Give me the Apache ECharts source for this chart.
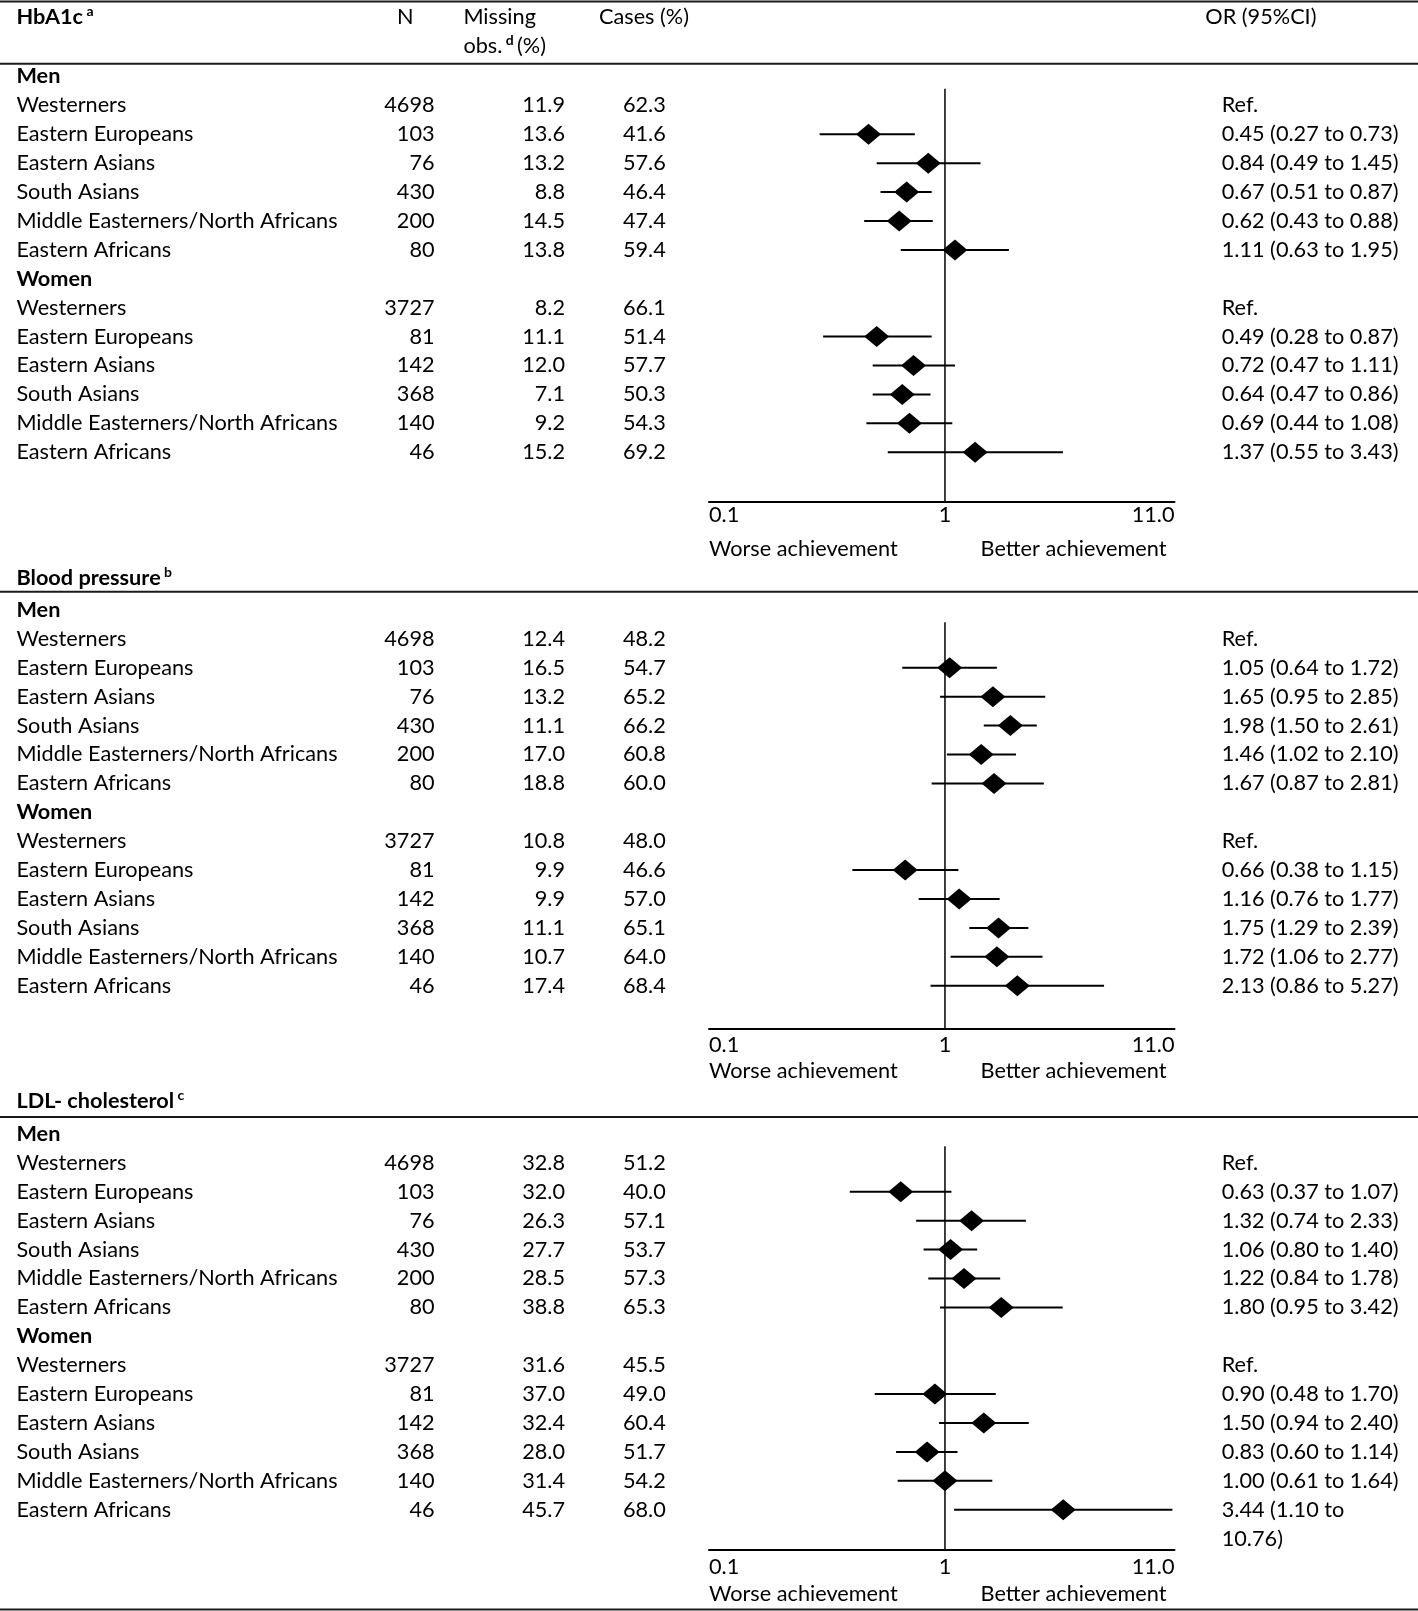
<!DOCTYPE html>
<html><head><meta charset="utf-8">
<script src="https://cdn.jsdelivr.net/npm/echarts@6/dist/echarts.min.js"></script>
<style>html,body{margin:0;padding:0;background:#fff}#c{width:1418px;height:1611px}</style>
</head><body><div id="c"></div>
<script>
// ---------- DATA ----------
const groups = ['Westerners','Eastern Europeans','Eastern Asians','South Asians','Middle Easterners/North Africans','Eastern Africans'];
const sexes = ['Men','Women'];
const sectionTitles = ['HbA1c','Blood pressure','LDL- cholesterol'];
const sectionNotes = ['a','b','c'];
const nValues = [4698,103,76,430,200,80, 3727,81,142,368,140,46];

const hbMissing = [11.9,13.6,13.2,8.8,14.5,13.8, 8.2,11.1,12.0,7.1,9.2,15.2];
const hbCases   = [62.3,41.6,57.6,46.4,47.4,59.4, 66.1,51.4,57.7,50.3,54.3,69.2];
const hbOR      = [null,0.45,0.84,0.67,0.62,1.11, null,0.49,0.72,0.64,0.69,1.37];
const hbLow     = [null,0.27,0.49,0.51,0.43,0.63, null,0.28,0.47,0.47,0.44,0.55];
const hbHigh    = [null,0.73,1.45,0.87,0.88,1.95, null,0.87,1.11,0.86,1.08,3.43];

const bpMissing = [12.4,16.5,13.2,11.1,17.0,18.8, 10.8,9.9,9.9,11.1,10.7,17.4];
const bpCases   = [48.2,54.7,65.2,66.2,60.8,60.0, 48.0,46.6,57.0,65.1,64.0,68.4];
const bpOR      = [null,1.05,1.65,1.98,1.46,1.67, null,0.66,1.16,1.75,1.72,2.13];
const bpLow     = [null,0.64,0.95,1.50,1.02,0.87, null,0.38,0.76,1.29,1.06,0.86];
const bpHigh    = [null,1.72,2.85,2.61,2.10,2.81, null,1.15,1.77,2.39,2.77,5.27];

const ldlMissing = [32.8,32.0,26.3,27.7,28.5,38.8, 31.6,37.0,32.4,28.0,31.4,45.7];
const ldlCases   = [51.2,40.0,57.1,53.7,57.3,65.3, 45.5,49.0,60.4,51.7,54.2,68.0];
const ldlOR      = [null,0.63,1.32,1.06,1.22,1.80, null,0.90,1.50,0.83,1.00,3.44];
const ldlLow     = [null,0.37,0.74,0.80,0.84,0.95, null,0.48,0.94,0.60,0.61,1.10];
const ldlHigh    = [null,1.07,2.33,1.40,1.78,3.42, null,1.70,2.40,1.14,1.64,10.76];

const refText = 'Ref.';
const refValue = 1;
const axisMin = 0.085, axisMax = 11.0;
const xTickLabels = ['0.1','1','11.0'];
const directionLabels = ['Worse achievement','Better achievement'];
const colHeaders = ['N','Missing','obs.','d','(%)','Cases (%)','OR (95%CI)'];

// ---------- LAYOUT ----------
const FONT = 'Lato';
const FS = 21.7;
const ROW = 28.9;
const PLOT_L = 709, PLOT_R = 1174.5;
const secTop = [76.5, 610, 1134];
const secAxis = [501.4, 1028.5, 1549.5];
const secHeadY = [17.5, 578.5, 1101.5];
const ruleY = [1.5, 63.7, 591.8, 1116.9, 1609.5];
const tickMargin = [3, 6, 7];
const dirMargin = [37, 32, 34];
const refLineStart = 0.42;
const X_NAME = 16.4, X_N = 434.6, X_MISS = 565, X_CASES = 665.8, X_OR = 1221.7;
const OR_WRAP = 19;

const secData = [
  [hbMissing, hbCases, hbOR, hbLow, hbHigh],
  [bpMissing, bpCases, bpOR, bpLow, bpHigh],
  [ldlMissing, ldlCases, ldlOR, ldlLow, ldlHigh]
];
const rowOf = i => i < 6 ? i + 1 : i + 2;
const f2 = v => v.toFixed(2);

const grids = [], xAxes = [], yAxes = [], series = [];
const baseText = {color:'#000', fontFamily:FONT, fontSize:FS};
const rich = {
  b:{fontWeight:'bold', fontFamily:FONT, fontSize:FS, color:'#000'},
  r:{fontFamily:FONT, fontSize:FS, color:'#000', padding:[0,8,0,0]}
};

function yAx(s, ymax, labels, position, offset, align) {
  return {type:'value', gridIndex:s, inverse:true, min:0, max:ymax, interval:1,
    position, offset,
    axisLine:{show:false}, axisTick:{show:false}, splitLine:{show:false},
    axisLabel:Object.assign({margin:0, align, showMinLabel:true, showMaxLabel:true,
      formatter: v => { const r = Math.round(v); return (Math.abs(v - r) < 1e-6 && labels[r]) ? labels[r] : ''; },
      rich}, baseText)};
}
function nearIdx(v, arr) {
  for (let i = 0; i < arr.length; i++) if (Math.abs(Math.log10(v) - Math.log10(arr[i])) < 1e-3) return i;
  return -1;
}
const tickPos = [axisMin, refValue, axisMax];

secData.forEach((d, s) => {
  const [miss, cases, or, lo, hi] = d;
  const ymax = (secAxis[s] - secTop[s]) / ROW;
  grids.push({left:PLOT_L, top:secTop[s], width:PLOT_R - PLOT_L, height:secAxis[s] - secTop[s]});
  const nameCol = [], nCol = [], missCol = [], casesCol = [], orCol = [];
  nameCol[0] = '{b|' + sexes[0] + '}';
  nameCol[7] = '{b|' + sexes[1] + '}';
  for (let i = 0; i < 12; i++) {
    const r = rowOf(i);
    nameCol[r] = groups[i % 6];
    nCol[r] = String(nValues[i]);
    missCol[r] = miss[i].toFixed(1);
    casesCol[r] = cases[i].toFixed(1);
    let t = or[i] == null ? refText : `${f2(or[i])} (${f2(lo[i])} to ${f2(hi[i])})`;
    if (t.length > OR_WRAP) {
      const cut = t.lastIndexOf(' ', OR_WRAP);
      orCol[r] = t.slice(0, cut);
      orCol[r + 1] = t.slice(cut + 1);
    } else orCol[r] = t;
  }
  const yBase = yAxes.length;
  yAxes.push(yAx(s, ymax, nameCol, 'left', PLOT_L - X_NAME, 'left'));
  yAxes.push(yAx(s, ymax, nCol, 'left', PLOT_L - X_N, 'right'));
  yAxes.push(yAx(s, ymax, missCol, 'left', PLOT_L - X_MISS, 'right'));
  yAxes.push(yAx(s, ymax, casesCol, 'left', PLOT_L - X_CASES, 'right'));
  yAxes.push(yAx(s, ymax, orCol, 'right', X_OR - PLOT_R, 'left'));

  const xBase = xAxes.length;
  xAxes.push({type:'log', logBase:10, gridIndex:s, min:axisMin, max:axisMax, position:'bottom',
    axisLine:{show:true, onZero:false, lineStyle:{color:'#000', width:2}},
    axisTick:{show:false}, splitLine:{show:false}, minorTick:{show:false},
    axisLabel:Object.assign({margin:tickMargin[s], showMinLabel:true, showMaxLabel:true,
      alignMinLabel:'left', alignMaxLabel:'right',
      formatter: v => { const k = nearIdx(v, tickPos); return k >= 0 ? xTickLabels[k] : ''; }}, baseText)});
  xAxes.push({type:'log', logBase:10, gridIndex:s, min:axisMin, max:axisMax, position:'bottom',
    axisLine:{show:false}, axisTick:{show:false}, splitLine:{show:false}, minorTick:{show:false},
    axisLabel:Object.assign({margin:dirMargin[s], showMinLabel:true, showMaxLabel:true,
      alignMinLabel:'left', alignMaxLabel:'right', rich,
      formatter: v => { const k = nearIdx(v, [axisMin, axisMax]); return k === 0 ? directionLabels[0] : (k === 1 ? '{r|' + directionLabels[1] + '}' : ''); }}, baseText)});

  series.push({type:'line', xAxisIndex:xBase, yAxisIndex:yBase, silent:true, symbol:'none', z:1,
    lineStyle:{color:'#000', width:1.5}, data:[[refValue, refLineStart], [refValue, ymax]]});
  const ci = [], pts = [];
  for (let i = 0; i < 12; i++) {
    if (or[i] == null) continue;
    ci.push([lo[i], hi[i], rowOf(i)]);
    pts.push([or[i], rowOf(i)]);
  }
  series.push({type:'custom', xAxisIndex:xBase, yAxisIndex:yBase, silent:true, z:2,
    encode:{x:[0,1], y:2}, data:ci,
    renderItem:(params, api) => {
      const a = api.coord([api.value(0), api.value(2)]);
      const b = api.coord([api.value(1), api.value(2)]);
      return {type:'line', shape:{x1:a[0], y1:a[1], x2:b[0], y2:b[1]}, style:{stroke:'#000', lineWidth:2}};
    }});
  series.push({type:'scatter', xAxisIndex:xBase, yAxisIndex:yBase, silent:true, z:3,
    symbol:'diamond', symbolSize:[25, 21], itemStyle:{color:'#000', opacity:1}, data:pts});
});

// ---------- headers & rules ----------
const supRich = {
  h:{fontWeight:'bold', fontFamily:FONT, fontSize:FS, fill:'#000'},
  t:{fontFamily:FONT, fontSize:FS, fill:'#000'},
  sup:{fontWeight:'bold', fontFamily:FONT, fontSize:14, fill:'#000', padding:[0,0,12,0]}
};
const graphic = [];
ruleY.forEach(y => graphic.push({type:'line', shape:{x1:0, y1:y, x2:1418, y2:y}, style:{stroke:'#1a1a1a', lineWidth:2}, silent:true}));
sectionTitles.forEach((t, s) => graphic.push({type:'text', x:X_NAME, y:secHeadY[s],
  style:{text:'{h|' + t + '} {sup|' + sectionNotes[s] + '}', rich:supRich, verticalAlign:'middle', align:'left'}}));
const txt = (x, y, text) => ({type:'text', x, y, style:{text, rich:supRich, verticalAlign:'middle', align:'left'}});
graphic.push(txt(397, 17.5, '{t|' + colHeaders[0] + '}'));
graphic.push(txt(463.4, 17.5, '{t|' + colHeaders[1] + '}'));
graphic.push(txt(463.4, 46, '{t|' + colHeaders[2] + '} {sup|' + colHeaders[3] + '} {t|' + colHeaders[4] + '}'));
graphic.push(txt(599, 17.5, '{t|' + colHeaders[5] + '}'));
graphic.push(txt(1205.3, 17.5, '{t|' + colHeaders[6] + '}'));

const chart = echarts.init(document.getElementById('c'), null, {renderer:'canvas'});
chart.setOption({animation:false, backgroundColor:'#fff', grid:grids, xAxis:xAxes, yAxis:yAxes, series, graphic});
</script></body></html>
